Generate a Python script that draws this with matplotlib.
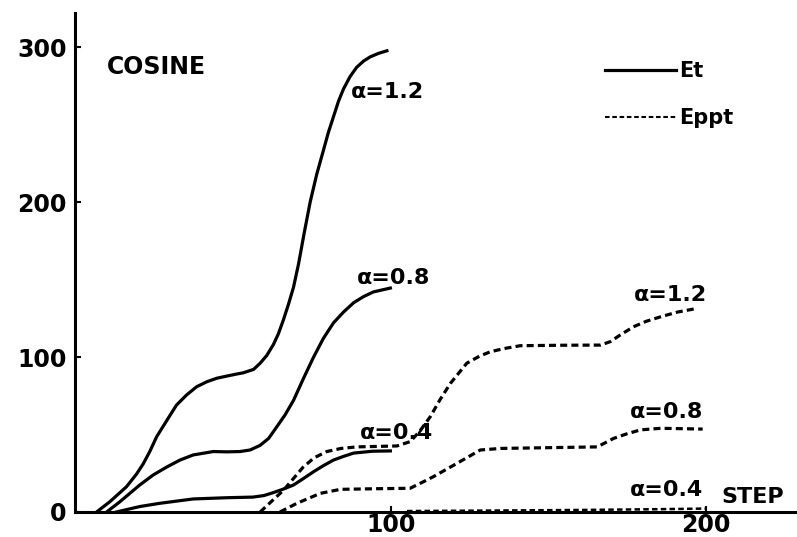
import numpy as np
import matplotlib
matplotlib.use("Agg")
import matplotlib.pyplot as plt
from matplotlib.lines import Line2D

# Et curves (solid)
et12_x = [6.3, 10.5, 15.8, 19, 21.1, 23.2, 25.4, 28.6, 31.7, 34.9, 38.1, 41.3, 44.5,
          47.7, 50.8, 52.9, 56.2, 58.3, 60.4, 62.5, 64.1, 65.7, 67.3, 68.9, 70.5,
          72.3, 74.2, 76.3, 78.5, 80, 81.6, 83.2, 84.8, 86.9, 89, 91.2, 93.3, 96, 98.6]
et12_y = [0, 6.6, 16.3, 24.5, 31, 39, 48.6, 59, 69, 75.5, 80.8, 84, 86.3,
          87.7, 89, 89.8, 92, 96, 101, 108, 115, 124, 134, 145, 160,
          180, 200, 218, 234, 245, 255, 265, 273, 281, 287, 291, 293.7, 296, 297.6]

et08_x = [9.5, 13.7, 20, 24.3, 28.6, 32.8, 37, 43.4, 47.7, 51.9, 55.1, 58.3, 61,
          63.6, 66.2, 68.9, 72.1, 75.3, 78.4, 81.6, 84.8, 88, 91.2, 94.3, 99.7]
et08_y = [0, 6.6, 17.4, 23.9, 29, 33.5, 36.8, 39, 38.8, 39, 40, 43, 47.5,
          55, 62.6, 72, 86.3, 100, 112, 122, 129, 135, 139, 142, 144.5]

et04_x = [12.6, 20, 26.4, 37, 47.7, 56, 59.5, 62.5, 65.7, 68.9, 72, 75.3, 78.5,
          81.6, 85, 88, 94, 99.7]
et04_y = [0, 3.5, 5.6, 8.4, 9.2, 9.6, 10.6, 12.5, 14.8, 17.4, 21.5, 26, 30,
          33.5, 36, 38, 39.2, 39.4]

# Eppt curves (dashed)
ep12_x = [58.3, 62, 65.7, 72, 75.5, 79.5, 84, 89, 101.8, 106, 109, 112.4, 115.5,
          118.8, 124, 128, 131.5, 136, 141, 155, 166.6, 169.7, 173, 177, 181,
          185.7, 191, 197.3]
ep12_y = [0, 7, 14, 29, 35, 39, 41, 42, 42.6, 45.4, 52, 61.5, 72.5,
          83, 96, 100.5, 103.4, 105.5, 107.3, 107.6, 107.7, 110, 114.5, 119.5, 123,
          126, 129, 131.4]

ep08_x = [64.6, 70, 77.4, 83.8, 95, 106, 110.2, 113.4, 120.9, 128.3, 134.7, 150,
          165.5, 170.7, 175, 179.3, 185.7, 199]
ep08_y = [0, 5.6, 12, 14.6, 15, 15.3, 19.5, 22.8, 31.4, 40, 41, 41.5,
          42, 47.5, 50.5, 53, 54, 53.5]

ep04_x = [105, 130, 160, 185, 200]
ep04_y = [0.6, 0.9, 1.3, 1.8, 2.2]

y_ticks = [0, 100, 200, 300]
x_ticks = [100, 200]

fig = plt.figure(figsize=(7.97, 5.37), dpi=100)
ax = fig.add_axes([0.094, 0.0466, 0.906, 0.9292])

lw = 2.3
dash = (2.2, 1.3)
ax.plot(et12_x, et12_y, color="black", lw=lw)
ax.plot(et08_x, et08_y, color="black", lw=lw)
ax.plot(et04_x, et04_y, color="black", lw=lw)
ax.plot(ep12_x, ep12_y, color="black", lw=lw, dashes=dash)
ax.plot(ep08_x, ep08_y, color="black", lw=lw, dashes=dash)
ax.plot(ep04_x, ep04_y, color="black", lw=1.8, dashes=dash)

ax.set_xlim(-0.6, 229)
ax.set_ylim(0, 322)
ax.spines["top"].set_visible(False)
ax.spines["right"].set_visible(False)
ax.spines["left"].set_linewidth(2.2)
ax.spines["bottom"].set_linewidth(2.2)

ax.set_xticks(x_ticks)
ax.set_yticks(y_ticks)
ax.set_xticklabels([str(v) for v in x_ticks])
ax.set_yticklabels([str(v) for v in y_ticks])
ax.tick_params(direction="in", length=4, width=1.5, labelsize=17, pad=6)
ax.tick_params(axis="x", pad=1)
for lab in ax.get_xticklabels() + ax.get_yticklabels():
    lab.set_fontweight("bold")

# labels on the curves
fs = 16
ax.text(87, 271, "α=1.2", fontsize=fs, fontweight="bold", ha="left", va="center")
ax.text(89, 151, "α=0.8", fontsize=fs, fontweight="bold", ha="left", va="center")
ax.text(90, 51, "α=0.4", fontsize=fs, fontweight="bold", ha="left", va="center")
ax.text(177, 140, "α=1.2", fontsize=fs, fontweight="bold", ha="left", va="center")
ax.text(176, 64.5, "α=0.8", fontsize=fs, fontweight="bold", ha="left", va="center")
ax.text(176, 14, "α=0.4", fontsize=fs, fontweight="bold", ha="left", va="center")
ax.text(205, 9.7, "STEP", fontsize=fs, fontweight="bold", ha="left", va="center")
ax.text(9.6, 287, "COSINE", fontsize=17, fontweight="bold", ha="left", va="center")

handles = [Line2D([], [], color="black", lw=lw),
           Line2D([], [], color="black", lw=1.5, dashes=(2.2, 1.3))]
ax.legend(handles, ["Et", "Eppt"], loc="upper left", bbox_to_anchor=(0.734, 0.903),
          frameon=False, handlelength=3.4, handletextpad=0.15,
          labelspacing=1.3, borderpad=0, borderaxespad=0,
          prop={"weight": "bold", "size": 15})

fig.savefig("out.png", dpi=100)
